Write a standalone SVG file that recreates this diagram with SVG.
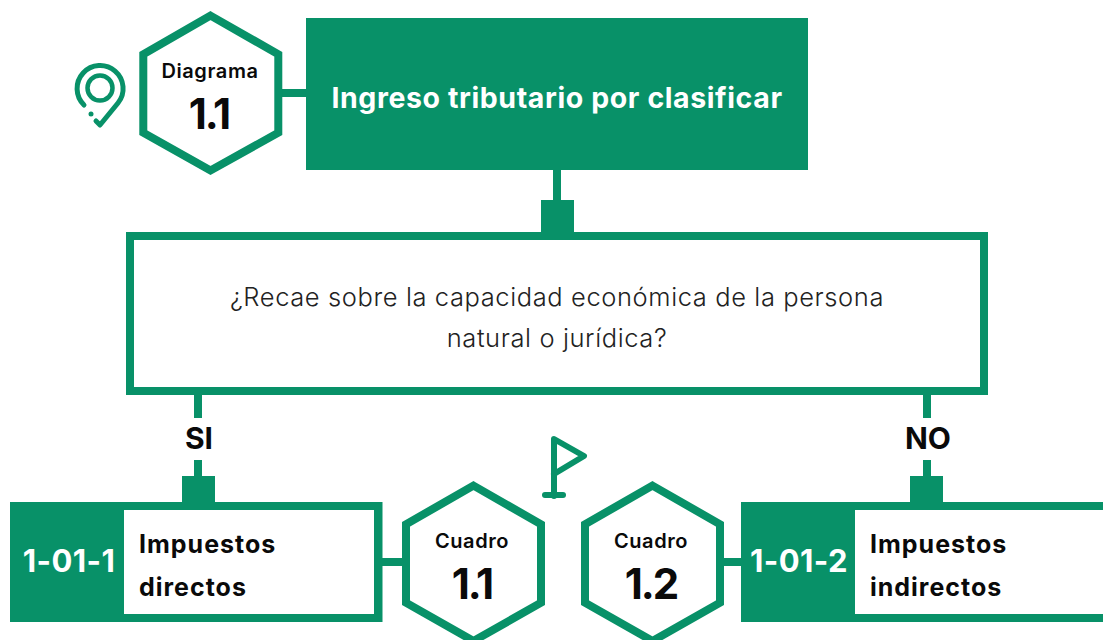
<svg xmlns="http://www.w3.org/2000/svg" width="1103" height="640" viewBox="0 0 1103 640">
<style>
.f{fill:#089168}
.hex{fill:#fff;stroke:#089168;stroke-width:8}
.box{fill:#fff;stroke:#089168;stroke-width:8}
.ic{fill:none;stroke:#089168;stroke-linecap:round;stroke-linejoin:round}
text{font-family:"Inter","Liberation Sans",sans-serif;fill:#0a0a0a}
.s{font-weight:600;font-size:20px;text-anchor:middle;letter-spacing:.6px}
.n{font-weight:700;font-size:42px;text-anchor:middle;letter-spacing:-2px}
.l{font-weight:700;font-size:25px;letter-spacing:1px}
.c{font-weight:700;font-size:31px;text-anchor:middle;letter-spacing:.4px;fill:#fff}
.q{font-weight:300;font-size:25.500px;text-anchor:middle;letter-spacing:.6px;fill:#222}
.yn{font-weight:700;font-size:30px;text-anchor:middle}
</style>
<g id="connectors" class="f">
<rect x="282" y="89" width="24" height="8"/>
<rect x="553" y="170" width="8" height="30"/><rect x="541" y="200" width="33" height="32"/>
<rect x="194" y="395" width="8" height="23"/><rect x="194" y="460" width="8" height="16"/><rect x="182" y="476" width="33" height="26"/>
<rect x="923" y="395" width="8" height="23"/><rect x="923" y="460" width="8" height="16"/><rect x="910" y="476" width="33" height="26"/>
<rect x="382" y="558" width="20" height="8"/>
<rect x="724" y="558" width="17" height="8"/>
</g>
<g id="icon-pin">
<path class="ic" stroke-width="5" d="M84 105A23 23 0 1 1 118 103L100 125L96 121"/>
<circle class="ic" cx="100" cy="88" r="12.500" stroke-width="4.500"/>
<circle class="f" cx="91" cy="114" r="2.500"/>
</g>
<g id="hex-diagrama">
<polygon class="hex" points="210.500,15.600 278.300,54.300 278.300,132.700 210.500,170.400 143.300,132.700 143.300,54.300"/>
<text class="s" x="210" y="78">Diagrama</text>
<text class="n" x="209" y="129">1.1</text>
</g>
<g id="node-ingreso">
<rect class="f" x="306" y="18" width="502" height="152"/>
<text x="557" y="108" font-size="28.500" font-weight="700" text-anchor="middle" letter-spacing=".6" style="fill:#fff">Ingreso tributario por clasificar</text>
</g>
<g id="node-pregunta">
<rect class="box" x="130" y="236" width="854" height="155"/>
<text class="q" x="557" y="306">¿Recae sobre la capacidad económica de la persona</text>
<text class="q" x="557" y="347">natural o jurídica?</text>
</g>
<text class="yn" x="199" y="449">SI</text>
<text class="yn" x="928" y="449">NO</text>
<g id="node-1-01-1">
<rect class="f" x="10" y="502" width="372.500" height="120"/>
<rect x="124" y="510" width="250" height="104" fill="#fff"/>
<text class="c" x="69" y="572">1-01-1</text>
<text class="l" x="139" y="553">Impuestos</text>
<text class="l" x="139" y="596">directos</text>
</g>
<g id="hex-cuadro-11">
<polygon class="hex" points="473.500,485.600 541,524.300 541,602.700 473.500,641 406,602.700 406,524.300"/>
<text class="s" x="472" y="548">Cuadro</text>
<text class="n" x="472" y="599">1.1</text>
</g>
<g id="icon-flag">
<path class="ic" stroke-width="6" d="M554 496V439L584 456L554 474"/>
<path class="ic" stroke-width="6" d="M545 495H563"/>
</g>
<g id="hex-cuadro-12">
<polygon class="hex" points="652.500,485.600 720,524.300 720,602.700 652.500,641 585,602.700 585,524.300"/>
<text class="s" x="651" y="548">Cuadro</text>
<text class="n" x="651" y="599">1.2</text>
</g>
<g id="node-1-01-2">
<rect class="f" x="741" y="502" width="362" height="120"/>
<rect x="855" y="510" width="248" height="104" fill="#fff"/>
<text class="c" x="799" y="572">1-01-2</text>
<text class="l" x="870" y="553">Impuestos</text>
<text class="l" x="870" y="596">indirectos</text>
</g>
</svg>
